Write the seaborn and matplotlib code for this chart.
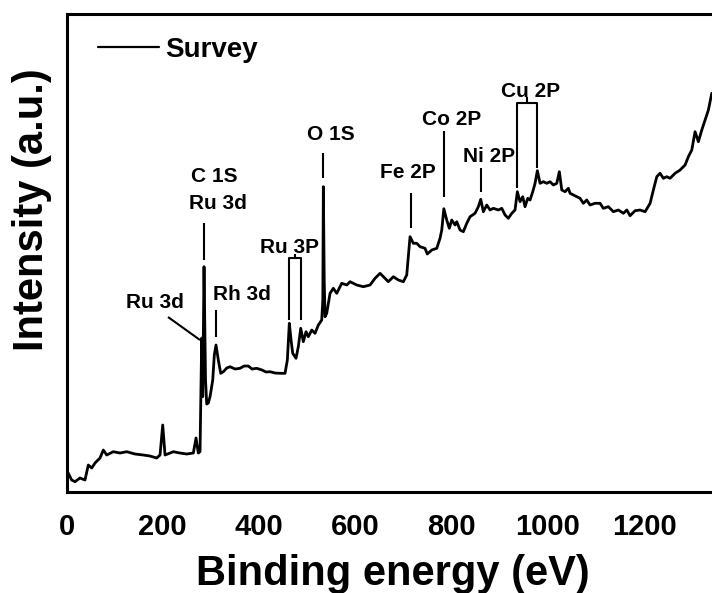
import numpy as np
import pandas as pd
import matplotlib
matplotlib.use("Agg")
import matplotlib.pyplot as plt
import seaborn as sns

# XPS survey spectrum: binding energy (eV) and intensity (a.u.)
energy = [
    2, 10.8, 17.7, 28.0, 38.4, 45.3, 52.4, 59.2, 69.6, 76.5,
    83.5, 97.2, 111.2, 125.1, 142.3, 159.6, 173.5, 187.4, 194.3, 199.9,
    204.7, 221.9, 235.8, 249.7, 263.5, 269.1, 273.8, 277.4, 280.9, 283.0,
    285.7, 288.8, 291.3, 294.6, 298.2, 303.8, 307.1, 310.6, 315.4, 320.4,
    325.8, 332.9, 339.7, 350.1, 360.5, 368.8, 377.7, 385.4, 395.2, 406.2,
    414.5, 422.8, 433.2, 443.6, 454.0, 458.8, 462.9, 466.5, 470.0, 476.8,
    481.6, 486.6, 492.0, 497.6, 502.4, 509.5, 516.3, 523.2, 530.2, 532.5,
    533.6, 535.4, 537.1, 540.6, 547.5, 554.3, 561.4, 571.8, 582.2, 589.0,
    603.0, 616.7, 630.6, 641.0, 651.4, 661.8, 668.6, 679.0, 689.4, 699.8,
    706.8, 710.2, 713.7, 720.5, 727.6, 734.5, 744.8, 749.6, 758.8, 769.2,
    776.0, 779.6, 783.9, 789.9, 795.3, 800.3, 807.2, 810.7, 817.6, 824.4,
    831.5, 838.4, 848.7, 855.6, 860.6, 866.0, 873.1, 879.9, 886.8, 897.2,
    904.2, 911.1, 917.9, 925.0, 931.8, 936.6, 942.2, 947.8, 952.6, 958.2,
    963.0, 968.6, 973.4, 978.2, 983.8, 990.7, 997.7, 1004.6, 1011.4, 1018.5,
    1023.9, 1028.9, 1035.7, 1042.6, 1046.1, 1053.0, 1066.9, 1073.7, 1080.8, 1087.6,
    1098.0, 1108.4, 1115.3, 1125.7, 1136.1, 1146.5, 1156.9, 1164.0, 1170.8, 1181.2,
    1191.6, 1202.0, 1212.4, 1219.2, 1226.3, 1233.1, 1240.0, 1247.0, 1253.9, 1264.3,
    1274.7, 1285.1, 1291.9, 1299.0, 1305.8, 1312.7, 1319.8, 1326.6, 1333.5, 1340.5,
]
intensity = [
    20, 11.7, 10, 13.7, 11.7, 26.7, 23.7, 28.7, 33.7, 41.7,
    36.7, 40, 38.7, 40, 37.7, 36.7, 35.7, 33.7, 36.7, 66.7,
    36.7, 40, 38.7, 37.7, 38.7, 53.7, 38.7, 40, 153.7, 95,
    225, 111.7, 87.7, 88.7, 95, 111.7, 136.7, 146.7, 131.7, 118.4,
    120, 123.7, 125, 122.7, 123.4, 125.7, 125.7, 122.7, 123.4, 121.7,
    119.7, 120, 118.7, 118.4, 118.4, 131.7, 168.4, 151.7, 138.4, 133.4,
    145, 163.4, 150, 160, 155, 161.7, 158.4, 166.7, 171.7, 191.7,
    305, 211.7, 175, 178.4, 198.4, 203.4, 198.4, 208.4, 206.7, 210,
    206.7, 205, 206.7, 213.4, 218.4, 213.4, 210, 215, 211.7, 210,
    216.7, 235, 255, 248.4, 248.4, 245, 243.4, 237.7, 241.7, 243.4,
    253.4, 261.7, 283, 271.7, 263.4, 271.7, 266.7, 270, 261.7, 260,
    268.4, 275, 278.4, 285, 292.4, 280, 286.7, 281.7, 283.4, 281.7,
    283.4, 276.7, 273.4, 278.4, 281.7, 300, 290, 295, 285, 293.4,
    291.7, 300, 308.4, 321, 308.4, 310, 308.4, 310, 306.7, 308.4,
    320, 301.7, 300, 303.4, 298.4, 296.7, 293.4, 288.4, 291.7, 286.7,
    288.4, 288.4, 283.4, 285, 280, 281.7, 278.4, 281.7, 276, 281,
    281.7, 280, 288.4, 301.7, 315, 318.4, 313.4, 315, 313.4, 318.4,
    321.7, 326.7, 335, 341.7, 360, 350, 361.7, 371.7, 381.7, 398.4,
]

# peak assignments (binding energy, eV)
peak_energy = {
    "Ru 3d5/2": 280.9, "C 1S": 285.7, "Rh 3d": 311.0,
    "Ru 3p3/2": 463.0, "Ru 3p1/2": 487.0, "O 1S": 533.6,
    "Fe 2P": 715.0, "Co 2P": 785.0, "Ni 2P": 860.6,
    "Cu 2p3/2": 936.6, "Cu 2p1/2": 977.0,
}
x_ticks = [0, 200, 400, 600, 800, 1000, 1200]

df = pd.DataFrame({"Binding energy": energy, "Intensity": intensity})

sns.set_theme(style="white")
plt.rcParams["font.family"] = ["Liberation Sans", "DejaVu Sans"]
plt.rcParams["font.weight"] = "bold"
plt.rcParams["text.color"] = "black"
plt.rcParams["axes.labelcolor"] = "black"
plt.rcParams["xtick.color"] = "black"
plt.rcParams["legend.labelcolor"] = "black"

fig = plt.figure(figsize=(7.12, 5.93), dpi=100)
ax = fig.add_axes([0.0934, 0.1708, 0.9066, 0.8056])

sns.lineplot(data=df, x="Binding energy", y="Intensity", color="black",
             linewidth=2.0, estimator=None, label="Survey", ax=ax)

ax.set_xlim(0, 1341)
ax.set_ylim(0, 477.7)
ax.set_xticks(x_ticks)
ax.set_xticklabels([str(t) for t in x_ticks], fontsize=21, fontweight="bold",
                   color="black")
ax.set_yticks([])
ax.tick_params(axis="x", length=0, pad=15, colors="black")

for side in ("left", "bottom", "top"):
    ax.spines[side].set_color("black")
    ax.spines[side].set_linewidth(2.2)
ax.spines["right"].set_visible(False)

ax.set_xlabel("Binding energy (eV)", fontsize=30, fontweight="bold", color="black")
ax.set_ylabel("Intensity (a.u.)", fontsize=30, fontweight="bold", color="black")
ax.xaxis.set_label_coords(0.505, -0.130)
ax.yaxis.set_label_coords(-0.0225, 0.590)

leg = ax.legend(loc="center left", bbox_to_anchor=(0.0488, 0.9246), frameon=False,
                fontsize=20, handlelength=2.2, handletextpad=0.2,
                borderpad=0, borderaxespad=0)
for line in leg.get_lines():
    line.set_linewidth(1.6)
for t in leg.get_texts():
    t.set_color("black")
    t.set_fontweight("bold")

# peak marker lines
kw = dict(color="black", linewidth=1.5, solid_capstyle="butt")
single_markers = [("C 1S", 231.7, 268.7), ("Rh 3d", 154.7, 181.7),
                  ("O 1S", 313.7, 338.7), ("Fe 2P", 263.7, 298.7),
                  ("Co 2P", 295.0, 361.0), ("Ni 2P", 300.0, 323.7)]
for name, y0, y1 in single_markers:
    e = peak_energy[name]
    ax.plot([e, e], [y0, y1], **kw)

# leader for the Ru 3d5/2 shoulder
e = peak_energy["Ru 3d5/2"]
ax.plot([e - 70, e - 3.5], [174.7, 151.7], **kw)

# brackets for spin-orbit doublets
def bracket(e_lo, e_hi, y_lo, y_hi, y_top, tick):
    mid = 0.5 * (e_lo + e_hi)
    ax.plot([e_lo, e_lo, e_hi, e_hi], [y_lo, y_top, y_top, y_hi], **kw)
    ax.plot([mid, mid], [y_top, y_top + tick], **kw)

bracket(peak_energy["Ru 3p3/2"], peak_energy["Ru 3p1/2"], 171.7, 171.7, 233.7, 4)
bracket(peak_energy["Cu 2p3/2"], peak_energy["Cu 2p1/2"], 303.7, 323.7, 389.0, 6)

# peak labels (x centre, baseline)
labels = [("C 1S", 307.5, 309.7), ("Ru 3d", 314.8, 282.7), ("Ru 3d", 184.2, 183.7),
          ("Rh 3d", 364.6, 191.7), ("Ru 3P", 462.3, 238.7), ("O 1S", 549.6, 351.7),
          ("Fe 2P", 708.5, 313.7), ("Co 2P", 800.3, 366.7), ("Ni 2P", 877.8, 330.0),
          ("Cu 2P", 965.1, 395.0)]
for text, x, y in labels:
    ax.text(x, y, text, ha="center", va="baseline", fontsize=15,
            fontweight="bold", color="black")

fig.savefig("out.png", dpi=100)
